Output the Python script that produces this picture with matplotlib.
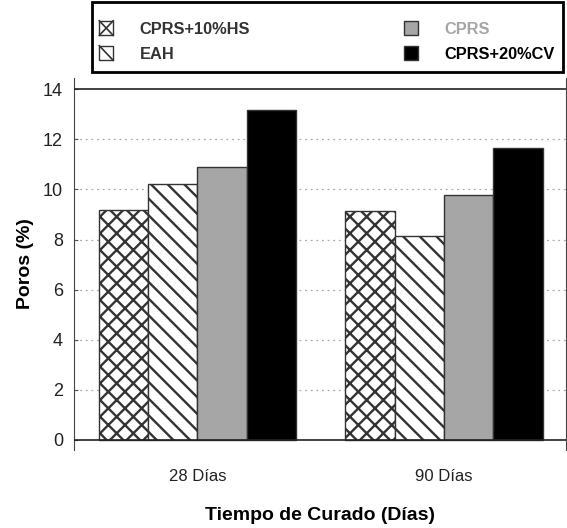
import matplotlib.pyplot as plt
from matplotlib.patches import Patch, Rectangle
from matplotlib.lines import Line2D
from matplotlib.legend_handler import HandlerPatch
import numpy as np

plt.rcParams['font.family'] = ['Liberation Sans', 'DejaVu Sans']
plt.rcParams['hatch.linewidth'] = 1.7
plt.rcParams['hatch.color'] = '#333333'

# datos
categorias = ['28 Días', '90 Días']
series = ['CPRS+10%HS', 'EAH', 'CPRS', 'CPRS+20%CV']
valores = [
    [9.17, 9.16],   # CPRS+10%HS
    [10.2, 8.14],   # EAH
    [10.9, 9.77],   # CPRS
    [13.19, 11.66], # CPRS+20%CV
]
yticks = [0, 2, 4, 6, 8, 10, 12, 14]

colores = ['white', 'white', '#a6a6a6', 'black']
tramas = ['xx', '\\\\', None, None]
colores_texto = ['#333333', '#333333', '#a6a6a6', 'black']


class HandlerTrama(HandlerPatch):
    # caja con una sola X o una sola diagonal, como en la leyenda original
    def __init__(self, cruz):
        super().__init__()
        self.cruz = cruz

    def create_artists(self, legend, orig_handle, xdescent, ydescent,
                       width, height, fontsize, trans):
        x0, y0 = -xdescent, -ydescent
        caja = Rectangle((x0, y0), width, height, facecolor='white',
                         edgecolor='#333333', linewidth=1.0, transform=trans)
        arts = [caja]
        arts.append(Line2D([x0, x0 + width], [y0 + height, y0], color='#333333',
                           linewidth=1.2, transform=trans))
        if self.cruz:
            arts.append(Line2D([x0, x0 + width], [y0, y0 + height], color='#333333',
                               linewidth=1.2, transform=trans))
        return arts


fig = plt.figure(figsize=(5.67, 5.28), dpi=100)
ax = fig.add_axes([74/567, 1-450/528, (566-74)/567, 372/528])

x = np.arange(len(categorias))
ancho = 0.2
for i, (nombre, vals) in enumerate(zip(series, valores)):
    ax.bar(x + (i - 1.5) * ancho, vals, ancho, color=colores[i],
           hatch=tramas[i], edgecolor='#333333', linewidth=1.0, zorder=3)

ax.set_xlim(-0.501, 1.495)
ax.set_ylim(-0.4, 14.45)
ax.set_yticks(yticks)
ax.set_xticks(x)
ax.set_xticklabels(categorias, fontsize=12, color='#222222')
ax.tick_params(axis='x', length=0, pad=14)
ax.tick_params(axis='y', direction='in', length=3, width=0.8, colors='#555555',
               labelsize=13, labelcolor='#222222', pad=8)

for y in yticks[1:-1]:
    ax.axhline(y, color='#aaaaaa', linestyle=(0, (1.5, 3)), linewidth=0.9, zorder=1)
ax.axhline(0, color='#222222', linewidth=1.2, zorder=4)
ax.axhline(14, color='#222222', linewidth=1.2, zorder=4)

ax.spines['top'].set_visible(False)
ax.spines['bottom'].set_visible(False)
ax.spines['left'].set_color('#444444')
ax.spines['right'].set_color('#444444')

ax.set_ylabel('Poros (%)', fontsize=14, fontweight='bold', labelpad=6)
ax.set_xlabel('Tiempo de Curado (Días)', fontsize=14, fontweight='bold', labelpad=16)

# marco de la leyenda
fig.patches.append(Rectangle((92/567, 1-72/528), (563-92)/567, 70/528,
                             transform=fig.transFigure, fill=False,
                             edgecolor='black', linewidth=2))

manejadores = [Patch(facecolor=colores[i], edgecolor='#333333', linewidth=1.0,
                     label=series[i]) for i in range(len(series))]
mapa = {manejadores[0]: HandlerTrama(True), manejadores[1]: HandlerTrama(False)}
leg = fig.legend(handles=manejadores, handler_map=mapa, loc='upper left', ncol=2,
                 mode='expand', bbox_to_anchor=(96/567, 1-18/528, (558-96)/567, 0.001),
                 prop={'weight': 'bold', 'size': 11.8}, frameon=False,
                 handlelength=0.85, handleheight=1.0, handletextpad=1.6,
                 labelspacing=0.55, borderpad=0.2, borderaxespad=0)
for t, c in zip(leg.get_texts(), colores_texto):
    t.set_color(c)

fig.savefig('out.png', dpi=100)
